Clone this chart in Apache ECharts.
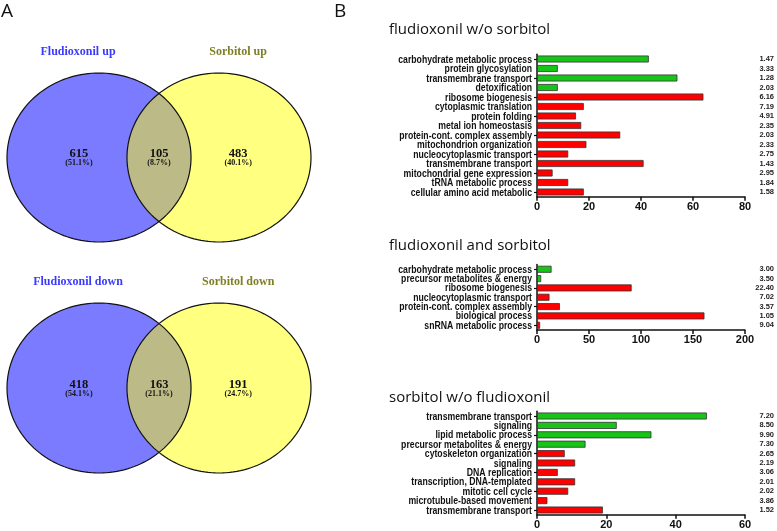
<!DOCTYPE html>
<html><head><meta charset="utf-8">
<script src="https://cdn.jsdelivr.net/npm/echarts@6/dist/echarts.min.js"></script>
<style>html,body{margin:0;padding:0;background:#fff}#c{width:777px;height:531px}</style>
</head><body><div id="c"></div>
<script>
// ---- Venn data ----
const vennUpLabels = ['Fludioxonil up', 'Sorbitol up'];
const vennUpCounts = [615, 105, 483];
const vennUpPct = ['51.1%', '8.7%', '40.1%'];
const vennDownLabels = ['Fludioxonil down', 'Sorbitol down'];
const vennDownCounts = [418, 163, 191];
const vennDownPct = ['54.1%', '21.1%', '24.7%'];

// ---- Bar chart data ----
const title1 = 'fludioxonil w/o sorbitol';
const cats1 = ['carbohydrate metabolic process','protein glycosylation','transmembrane transport','detoxification','ribosome biogenesis','cytoplasmic translation','protein folding','metal ion homeostasis','protein-cont. complex assembly','mitochondrion organization','nucleocytoplasmic transport','transmembrane transport','mitochondrial gene expression','tRNA metabolic process','cellular amino acid metabolic'];
const vals1 = [43, 8, 54, 8, 64, 18, 15, 17, 32, 19, 12, 41, 6, 12, 18];
const nUp1 = 4;
const pvals1 = ['1.47','3.33','1.28','2.03','6.16','7.19','4.91','2.35','2.03','2.33','2.75','1.43','2.95','1.84','1.58'];
const ticks1 = {max: 80, interval: 20};

const title2 = 'fludioxonil and sorbitol';
const cats2 = ['carbohydrate metabolic process','precursor metabolites & energy','ribosome biogenesis','nucleocytoplasmic transport','protein-cont. complex assembly','biological process','snRNA metabolic process'];
const vals2 = [14, 4, 91, 12, 22, 161, 3];
const nUp2 = 2;
const pvals2 = ['3.00','3.50','22.40','7.02','3.57','1.05','9.04'];
const ticks2 = {max: 200, interval: 50};

const title3 = 'sorbitol w/o fludioxonil';
const cats3 = ['transmembrane transport','signaling','lipid metabolic process','precursor metabolites & energy','cytoskeleton organization','signaling','DNA replication','transcription, DNA-templated','mitotic cell cycle','microtubule-based movement','transmembrane transport'];
const vals3 = [49, 23, 33, 14, 8, 11, 6, 11, 9, 3, 19];
const nUp3 = 4;
const pvals3 = ['7.20','8.50','9.90','7.30','2.65','2.19','3.06','2.01','2.02','3.86','1.52'];
const ticks3 = {max: 60, interval: 20};

// ---- styling ----
const GREEN = '#17c417', RED = '#ff0000';
const BLUE = '#7b7bff', YELLOW = '#ffff80', OVERLAP = '#bcbb87';
const SANS = "'Liberation Sans', Arial, sans-serif";

const chart = echarts.init(document.getElementById('c'));

function ellipsePts(cx, cy, rx, ry, a0, a1, n) {
  const pts = [];
  for (let i = 0; i <= n; i++) {
    const t = a0 + (a1 - a0) * i / n;
    pts.push([cx + rx * Math.cos(t), cy + ry * Math.sin(t)]);
  }
  return pts;
}

const OFF = 0.652; // half distance between ellipse centres, in radii
function vennRender(labels, counts, pcts) {
  return function (params, api) {
    const lc = api.coord([-OFF, 0]);
    const rc = api.coord([OFF, 0]);
    const sz = api.size([1, 1]);
    const rx = sz[0], ry = sz[1];
    const d = (rc[0] - lc[0]) / 2;
    const t0 = Math.acos(d / rx);
    const L = ellipsePts(lc[0], lc[1], rx, ry, 0, 2 * Math.PI, 160);
    const R = ellipsePts(rc[0], rc[1], rx, ry, 0, 2 * Math.PI, 160);
    const lens = ellipsePts(lc[0], lc[1], rx, ry, -t0, t0, 60)
      .concat(ellipsePts(rc[0], rc[1], rx, ry, Math.PI - t0, Math.PI + t0, 60));
    const children = [
      {type: 'polygon', shape: {points: L}, style: {fill: BLUE, stroke: null}},
      {type: 'polygon', shape: {points: R}, style: {fill: YELLOW, stroke: null}},
      {type: 'polygon', shape: {points: lens}, style: {fill: OVERLAP, stroke: null}},
      {type: 'polygon', shape: {points: L}, style: {fill: null, stroke: '#111', lineWidth: 1.2}},
      {type: 'polygon', shape: {points: R}, style: {fill: null, stroke: '#111', lineWidth: 1.2}}
    ];
    const serif = "'Liberation Serif', 'DejaVu Serif', serif";
    const tl = api.coord([-0.88, -1.25]), tr = api.coord([0.86, -1.25]);
    children.push({type: 'text', x: tl[0], y: tl[1], style: {text: labels[0], fill: '#3a3aff', fontFamily: serif, fontWeight: 'bold', fontSize: 12, align: 'center', verticalAlign: 'middle'}});
    children.push({type: 'text', x: tr[0], y: tr[1], style: {text: labels[1], fill: '#7f7f25', fontFamily: serif, fontWeight: 'bold', fontSize: 12, align: 'center', verticalAlign: 'middle'}});
    const xs = [-0.87, 0, 0.86];
    for (let i = 0; i < 3; i++) {
      const p = api.coord([xs[i], -0.04]);
      const q = api.coord([xs[i], 0.07]);
      children.push({type: 'text', x: p[0], y: p[1], style: {text: String(counts[i]), fill: '#111', fontFamily: serif, fontWeight: 'bold', fontSize: 12.5, align: 'center', verticalAlign: 'middle'}});
      children.push({type: 'text', x: q[0], y: q[1], style: {text: '(' + pcts[i] + ')', fill: '#111', fontFamily: serif, fontWeight: 'bold', fontSize: 8, align: 'center', verticalAlign: 'middle'}});
    }
    return {type: 'group', children: children};
  };
}

// category labels drawn as condensed text at each category position
function catLabelRender(cats) {
  return function (params, api) {
    const idx = api.value(0);
    const p = api.coord([0, idx]);
    return {type: 'text', x: p[0] - 5, y: p[1] + 0.5, scaleX: 0.79,
      style: {text: cats[idx], fill: '#111', fontFamily: SANS, fontWeight: 'bold', fontSize: 11, align: 'right', verticalAlign: 'middle'}};
  };
}

const barGrids = [
  {top: 54.25, height: 142.5},
  {top: 264.6, height: 65.3},
  {top: 411.3, height: 103.4}
];
const barSets = [
  {cats: cats1, vals: vals1, nUp: nUp1, pvals: pvals1, ticks: ticks1},
  {cats: cats2, vals: vals2, nUp: nUp2, pvals: pvals2, ticks: ticks2},
  {cats: cats3, vals: vals3, nUp: nUp3, pvals: pvals3, ticks: ticks3}
];

const grid = [
  {left: 7, top: 73, width: 304, height: 169},
  {left: 7, top: 303, width: 304, height: 170}
];
const xAxis = [
  {gridIndex: 0, type: 'value', min: -1.652, max: 1.652, show: false},
  {gridIndex: 1, type: 'value', min: -1.652, max: 1.652, show: false}
];
const yAxis = [
  {gridIndex: 0, type: 'value', min: -1, max: 1, inverse: true, show: false},
  {gridIndex: 1, type: 'value', min: -1, max: 1, inverse: true, show: false}
];
const series = [
  {type: 'custom', coordinateSystem: 'cartesian2d', xAxisIndex: 0, yAxisIndex: 0, data: [[0, 0]], silent: true, clip: false,
   renderItem: vennRender(vennUpLabels, vennUpCounts, vennUpPct)},
  {type: 'custom', coordinateSystem: 'cartesian2d', xAxisIndex: 1, yAxisIndex: 1, data: [[0, 0]], silent: true, clip: false,
   renderItem: vennRender(vennDownLabels, vennDownCounts, vennDownPct)}
];

barSets.forEach(function (s, k) {
  const gi = 2 + k;
  grid.push({left: 537, right: 29, top: barGrids[k].top, height: barGrids[k].height});
  xAxis.push({gridIndex: gi, type: 'value', min: 0, max: s.ticks.max, interval: s.ticks.interval,
    axisLine: {show: true, lineStyle: {color: '#111', width: 1.5}},
    axisTick: {show: true, length: 4, lineStyle: {color: '#111', width: 1.5}},
    splitLine: {show: false},
    axisLabel: {color: '#111', fontWeight: 'bold', fontSize: 11, margin: 5, fontFamily: SANS}});
  const yi = yAxis.length;
  yAxis.push({gridIndex: gi, type: 'category', data: s.cats, inverse: true,
    axisLine: {show: true, lineStyle: {color: '#111', width: 1.5}},
    axisTick: {show: true, alignWithLabel: true, length: 3, lineStyle: {color: '#111', width: 1.2}},
    axisLabel: {show: false}});
  yAxis.push({gridIndex: gi, type: 'category', data: s.pvals, inverse: true, position: 'right',
    axisLine: {show: false}, axisTick: {show: false},
    axisLabel: {interval: 0, color: '#222', fontWeight: 'bold', fontSize: 7.5, margin: 29, align: 'right', fontFamily: SANS}});
  series.push({type: 'bar', xAxisIndex: gi, yAxisIndex: yi, barWidth: 7,
    data: s.vals.map(function (v, i) {
      return {value: v, itemStyle: {color: i < s.nUp ? GREEN : RED, borderColor: '#333', borderWidth: 0.8}};
    })});
  series.push({type: 'custom', xAxisIndex: gi, yAxisIndex: yi, silent: true, clip: false,
    data: s.cats.map(function (c, i) { return [i]; }),
    encode: {y: 0},
    renderItem: catLabelRender(s.cats)});
});

const titleStyle = {fontFamily: "'Open Sans', sans-serif", fontWeight: 'normal', fontSize: 15, color: '#111'};
const option = {
  animation: false,
  backgroundColor: '#fff',
  title: [
    {text: 'A', left: 1, top: 2, padding: 0, textStyle: {fontFamily: "'Open Sans', sans-serif", fontWeight: 'normal', fontSize: 19, color: '#111'}},
    {text: 'B', left: 334, top: 2, padding: 0, textStyle: {fontFamily: "'Open Sans', sans-serif", fontWeight: 'normal', fontSize: 19, color: '#111'}},
    {text: title1, left: 389, top: 22, padding: 0, textStyle: titleStyle},
    {text: title2, left: 389, top: 238, padding: 0, textStyle: titleStyle},
    {text: title3, left: 389, top: 390, padding: 0, textStyle: titleStyle}
  ],
  grid: grid, xAxis: xAxis, yAxis: yAxis, series: series
};
chart.setOption(option);
</script></body></html>
